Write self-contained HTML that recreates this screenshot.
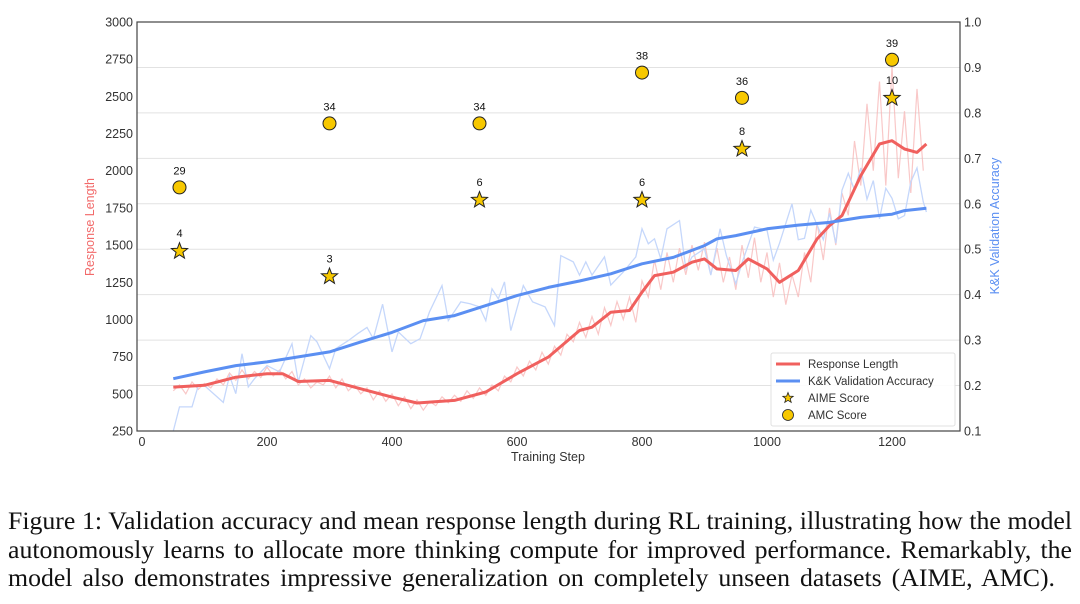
<!DOCTYPE html>
<html><head><meta charset="utf-8">
<style>
html,body{margin:0;padding:0;background:#fff;}
body{width:1080px;height:604px;position:relative;overflow:hidden;}
#chart{position:absolute;left:0;top:0;}
.cap{position:absolute;left:8px;width:1064px;font-family:"Liberation Serif",serif;font-size:25.8px;color:#111;white-space:nowrap;text-align:justify;text-align-last:justify;line-height:28px;}
</style></head>
<body>
<svg id="chart" width="1080" height="490" xmlns="http://www.w3.org/2000/svg" font-family="Liberation Sans, DejaVu Sans, sans-serif"></svg>
<div class="cap" style="top:507px">Figure 1: Validation accuracy and mean response length during RL training, illustrating how the model</div>
<div class="cap" style="top:535.5px">autonomously learns to allocate more thinking compute for improved performance. Remarkably, the</div>
<div class="cap" style="top:564px;width:1047px">model also demonstrates impressive generalization on completely unseen datasets (AIME, AMC).</div>
<script>
const xTicks=[0,200,400,600,800,1000,1200];
const leftTicks=[250,500,750,1000,1250,1500,1750,2000,2250,2500,2750,3000];
const rightTicks=[0.1,0.2,0.3,0.4,0.5,0.6,0.7,0.8,0.9,1.0];
const redSmoothSteps=[50,100,150,200,225,250,300,350,400,440,500,550,600,650,700,720,750,780,800,820,850,880,900,920,950,970,1000,1020,1050,1080,1100,1120,1150,1180,1200,1220,1240,1255];
const redSmooth=[545,557,612,635,635,583,590,534,478,438,456,512,635,747,926,948,1049,1060,1183,1295,1318,1385,1407,1340,1329,1407,1340,1250,1329,1541,1631,1698,1967,2180,2202,2146,2123,2180];
const redRawStart=50, redRawStep=10;
const redRaw=[520,560,500,580,530,570,
540,600,560,640,590,660,600,650,610,680,
620,660,600,650,560,600,540,580,560,620,
540,600,520,560,500,540,460,520,450,500,
420,480,400,460,390,450,420,480,440,490,
450,520,470,540,490,560,520,620,580,680,
620,720,660,780,700,820,760,900,850,980,
880,1020,900,1080,960,1120,1000,1150,980,1260,
1150,1400,1200,1450,1250,1480,1300,1500,1330,1520,
1300,1480,1250,1420,1200,1500,1280,1550,1250,1450,
1150,1380,1100,1300,1150,1450,1250,1650,1400,1750,
1500,1850,1700,2200,1900,2450,2000,2600,1900,2700,
1950,2400,1850,2550,2000];
const blueSmoothSteps=[50,100,150,200,250,300,350,400,450,500,550,600,650,700,750,800,850,900,920,950,1000,1050,1100,1150,1200,1220,1255];
const blueSmooth=[0.215,0.23,0.244,0.252,0.263,0.274,0.296,0.317,0.343,0.354,0.376,0.398,0.416,0.43,0.446,0.468,0.482,0.508,0.523,0.53,0.545,0.553,0.559,0.57,0.577,0.585,0.59];
const blueRawSteps=[50,60,80,90,100,130,140,150,160,170,180,200,220,240,250,270,280,300,310,330,345,360,370,385,400,410,430,445,460,480,490,510,525,540,550,560,570,580,590,610,625,645,660,670,690,700,710,720,740,750,770,790,800,810,820,830,840,860,870,880,900,910,925,935,950,960,980,1000,1010,1020,1040,1050,1060,1070,1090,1100,1110,1120,1130,1140,1150,1160,1170,1180,1190,1200,1210,1220,1230,1240,1250,1255];
const blueRaw=[0.100,0.153,0.153,0.200,0.200,0.163,0.222,0.182,0.270,0.197,0.215,0.244,0.230,0.292,0.208,0.310,0.296,0.237,0.281,0.299,0.314,0.328,0.303,0.379,0.274,0.318,0.292,0.303,0.362,0.420,0.343,0.384,0.380,0.373,0.343,0.413,0.391,0.428,0.321,0.420,0.384,0.373,0.332,0.486,0.472,0.443,0.472,0.443,0.483,0.421,0.450,0.483,0.545,0.512,0.523,0.479,0.545,0.563,0.457,0.483,0.501,0.443,0.545,0.486,0.424,0.470,0.549,0.542,0.476,0.513,0.600,0.521,0.524,0.586,0.521,0.579,0.513,0.630,0.667,0.630,0.679,0.610,0.651,0.567,0.634,0.612,0.567,0.574,0.648,0.679,0.604,0.582];
const evalSteps=[60,300,540,800,960,1200];
const aimeScores=[4,3,6,6,8,10];
const aimePos=[1459,1289,1803,1803,2146,2488];
const amcScores=[29,34,34,38,36,39];
const amcPos=[1888,2318,2318,2660,2490,2746];

const L=137,R=960,T=22,B=431;
const X=v=>142+v*0.625;
const YL=v=>B-(v-250)/2750*(B-T);
const YR=v=>B-(v-0.1)/0.9*(B-T);
const svg=document.getElementById('chart');
const NS='http://www.w3.org/2000/svg';
function mk(tag,attrs,parent){const e=document.createElementNS(NS,tag);for(const k in attrs)e.setAttribute(k,attrs[k]);(parent||svg).appendChild(e);return e;}
function txt(s,attrs){const e=mk('text',attrs);e.textContent=s;return e;}

rightTicks.forEach(t=>{if(t>0.1&&t<1.0){const g=mk('line',{x1:L,x2:R,y1:YR(t),y2:YR(t),stroke:'#e2e2e2','stroke-width':1});

}});

function poly(xs,ys,fx,fy,attrs,name){const d=xs.map((x,i)=>(i?'L':'M')+fx(x).toFixed(1)+','+fy(ys[i]).toFixed(1)).join('');const p=mk('path',Object.assign({d:d,fill:'none'},attrs));


return p;}
const rawXs=redRaw.map((v,i)=>redRawStart+i*redRawStep);
poly(rawXs,redRaw,X,YL,{stroke:'#f7b5b5','stroke-width':1.2,opacity:0.75},'response-length-raw');
poly(blueRawSteps,blueRaw,X,YR,{stroke:'#c5d7fb','stroke-width':1.3},'accuracy-raw');
poly(redSmoothSteps,redSmooth,X,YL,{stroke:'#f0605e','stroke-width':3,'stroke-linejoin':'round'},'response-length-line');
poly(blueSmoothSteps,blueSmooth,X,YR,{stroke:'#5b8ff2','stroke-width':3,'stroke-linejoin':'round'},'accuracy-line');

function star(cx,cy,r){let pts=[];for(let i=0;i<10;i++){const a=-Math.PI/2+i*Math.PI/5;const rr=i%2?r*0.42:r;pts.push((cx+rr*Math.cos(a)).toFixed(1)+','+(cy+rr*Math.sin(a)).toFixed(1));}return pts.join(' ');}
evalSteps.forEach((s,i)=>{
  const c=mk('circle',{cx:X(s),cy:YL(amcPos[i]),r:6.5,fill:'#f7c800',stroke:'#222','stroke-width':1});
  
  
  const t=txt(String(amcScores[i]),{x:X(s),y:YL(amcPos[i])-13,'text-anchor':'middle','font-size':11,fill:'#111'});
  
  
  const p=mk('polygon',{points:star(X(s),YL(aimePos[i]),8.5),fill:'#f7c800',stroke:'#222','stroke-width':1});
  
  
  const t2=txt(String(aimeScores[i]),{x:X(s),y:YL(aimePos[i])-14,'text-anchor':'middle','font-size':11,fill:'#111'});
  
  
});

const fr=mk('rect',{x:L,y:T,width:R-L,height:B-T,fill:'none',stroke:'#444','stroke-width':1.2});



xTicks.forEach(t=>{const e=txt(String(t),{x:X(t),y:B+15,'text-anchor':'middle','font-size':12.5,fill:'#333'});

});
leftTicks.forEach(t=>{const e=txt(String(t),{x:L-4,y:YL(t)+4.5,'text-anchor':'end','font-size':12.5,fill:'#333'});

});
rightTicks.forEach(t=>{const e=txt(t.toFixed(1),{x:R+4,y:YR(t)+4.5,'text-anchor':'start','font-size':12.5,fill:'#333'});

});

const xl=txt('Training Step',{x:548,y:461,'text-anchor':'middle','font-size':12.5,fill:'#333'});


const yl=txt('Response Length',{x:0,y:0,'text-anchor':'middle','font-size':12.5,fill:'#f26a6a',transform:'translate(94,227) rotate(-90)'});


const yr=txt('K&K Validation Accuracy',{x:0,y:0,'text-anchor':'middle','font-size':12.5,fill:'#5b8ff2',transform:'translate(999,226) rotate(-90)'});



const lg=mk('rect',{x:771,y:353,width:184,height:73,fill:'#fff',stroke:'#ddd','stroke-width':1,rx:2,opacity:0.9});


const lgItems=['Response Length','K&K Validation Accuracy','AIME Score','AMC Score'];
lgItems.forEach((s,i)=>{const y=364+i*17;
  if(i===0){const l=mk('line',{x1:776,x2:800,y1:y,y2:y,stroke:'#f0605e','stroke-width':3});}
  if(i===1){const l=mk('line',{x1:776,x2:800,y1:y,y2:y,stroke:'#5b8ff2','stroke-width':3});}
  if(i===2){const l=mk('polygon',{points:star(788,y,5.5),fill:'#f7c800',stroke:'#222','stroke-width':0.8});}
  if(i===3){const l=mk('circle',{cx:788,cy:y,r:5.5,fill:'#f7c800',stroke:'#222','stroke-width':0.8});}
  const t=txt(s,{x:808,y:y+4,'font-size':11.5,fill:'#333'});
  
  
});
</script>
</body></html>
